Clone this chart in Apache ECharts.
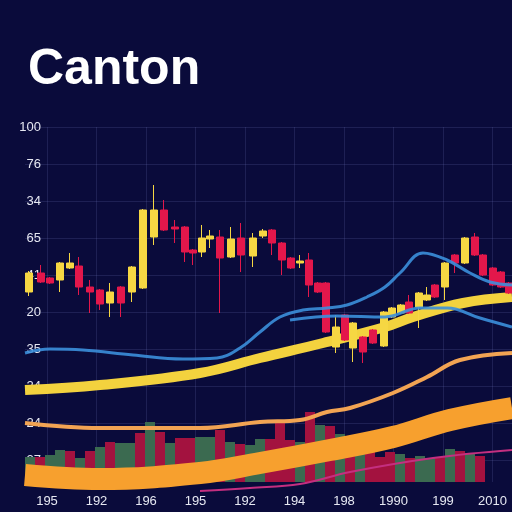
<!DOCTYPE html>
<html>
<head>
<meta charset="utf-8">
<script src="https://cdn.jsdelivr.net/npm/echarts@6/dist/echarts.min.js"></script>
<style>
html,body{margin:0;padding:0;background:#0a0b3b;}
#main{width:512px;height:512px;}
</style>
</head>
<body>
<div id="main"></div>
<script>
// axis labels (bottom -> top for y)
var xLabels = ['195', '192', '196', '195', '192', '194', '198', '1990', '199', '2010'];
var yLabels = ['27', '24', '24', '35', '20', '41', '65', '34', '76', '100'];

// candles: [x, open, close, low, high]
var candles = [
    [0.8, 38, 41.8, 37.2, 42.2], [3.2, 41.8, 40, 39.8, 43.4], [5, 40.8, 39.8, 39.6, 41],
    [7, 40.4, 43.8, 38, 44], [9, 42.8, 43.8, 42.6, 45.8], [10.8, 43.2, 39, 37.4, 45],
    [13, 39, 38, 33.8, 40.4], [15, 38.4, 35.6, 34.4, 38.6], [17, 35.8, 38, 33, 39.8],
    [19.2, 39, 35.8, 33, 39.2], [21.4, 38, 43, 36, 43.2], [23.6, 38.8, 54.4, 38.6, 54.6],
    [25.8, 49, 54.4, 47.4, 59.4], [27.8, 54.4, 50.4, 50.2, 56.4], [30, 51, 50.6, 47.8, 52.4],
    [32, 51, 46, 44, 51.2], [33.6, 46.4, 45.8, 43.4, 46.6], [35.4, 46, 48.8, 45, 51.4],
    [37, 48.6, 49.2, 46.8, 50.4], [39, 49, 44.8, 33.8, 50.4], [41.2, 45, 48.6, 44.8, 51],
    [43.2, 48.8, 45.4, 42, 51.8], [45.6, 45.2, 48.8, 43, 49.8], [47.6, 49.2, 50.2, 48.8, 50.6],
    [49.4, 50.4, 47.8, 45.4, 50.6], [51.4, 47.8, 44.4, 41.4, 48], [53.2, 44.8, 42.8, 42.6, 45],
    [55, 43.8, 44.2, 42.8, 45.4], [56.8, 44.4, 39.4, 37, 45.8], [58.6, 39.8, 38, 37.8, 40],
    [60.2, 39.8, 30, 29.8, 40], [62.2, 27, 31, 25.8, 33.4], [64, 33.4, 28.4, 28.2, 33.6],
    [65.6, 26.8, 31.8, 24, 32], [67.6, 29, 26, 23.8, 29.2], [69.6, 30.4, 27.8, 27.6, 30.6],
    [71.8, 27.2, 34, 27, 34.2], [73.4, 33, 34.8, 32.8, 35], [75.2, 33.8, 35.4, 33.6, 35.6],
    [76.8, 36, 33.8, 33.6, 37.4], [78.8, 35, 37.8, 30.8, 38], [80.4, 36.4, 37.4, 36.2, 39],
    [82, 39.4, 37, 36.8, 39.6], [84, 39, 43.8, 36.4, 44], [86, 45.4, 43.8, 41.8, 45.6],
    [88, 43.8, 48.8, 43.6, 49], [90, 49, 45.4, 45.2, 49.8], [91.6, 45.4, 41.4, 41.2, 45.6],
    [93.6, 42.8, 39.4, 39.2, 43], [95.2, 42, 39, 38.8, 42.2], [96.8, 39.8, 37.8, 37.6, 40]
];

// volume bars: top level, hidden base level, direction (1 up / 0 down)
var volX = [1, 3, 5, 7, 9, 11, 13, 15, 17, 19, 21, 23, 25, 27, 29, 31, 33, 35, 37, 39, 41, 43, 45,
    47, 49, 51, 53, 55, 57, 59, 61, 63, 65, 67, 69, 71, 73, 75, 77, 79, 81, 83, 85, 87, 89, 91];
var volTop = [5, 5, 5.4, 6.4, 6.2, 4.8, 6.2, 7, 8, 7.8, 7.8, 9.8, 12, 10, 7.8, 8.8, 8.8, 9, 9, 10.4,
    9.6, 9.6, 9.8, 11.4, 11.8, 15.6, 12.4, 12.4, 18.8, 16.6, 16.6, 15.4, 14.4, 13, 13, 12.4, 13.8,
    14, 13.8, 14.8, 15, 15.8, 18, 18, 18, 17.8];
var volBase = [0, 0, 0, 0, 0, 0, 0, 0, 0, 0, 0, 0, 0, 0, 0, 0, 0, 0, 0, 0, 1.6, 2, 2.4, 2.8, 3.2,
    3.6, 4, 4.4, 4.8, 5.2, 5.4, 5.8, 6.2, 6.6, 7, 7.4, 7.8, 8.4, 9, 9.6, 10.2, 10.8, 11.4, 11.8,
    12.2, 12.6];
var volDir = [1, 0, 1, 1, 0, 1, 0, 1, 0, 1, 1, 0, 1, 0, 1, 0, 0, 1, 1, 0, 1, 0, 1, 1, 0, 0, 0, 1,
    0, 1, 0, 1, 0, 1, 0, 0, 0, 1, 0, 1, 1, 0, 1, 0, 1, 0];

// curves [x, y]
var blueA = [[0, 25.8], [5, 26.6], [11.6, 26.4], [21.6, 25.4], [31.6, 24.6], [38.4, 24.8],
    [43, 26.8], [47, 30], [51, 33], [55.6, 34.4], [60.4, 34.8], [64.4, 35.4], [68.4, 37],
    [72, 39], [75, 41.8], [79.6, 45.8], [84.4, 44.4], [89, 41.8], [93, 40], [97.4, 39.4]];
var blueB = [[53, 32.4], [62.4, 33.2], [72, 33], [79, 34.8], [84.4, 34.8], [91, 32.8], [97.4, 31]];
var yellowBand = [[0, 18.4], [15, 19.4], [35, 21.8], [47, 24.8], [59.6, 27.8], [72, 31],
    [77.6, 33], [87.6, 35.8], [97.4, 37]];
var orangeLine = [[0, 11.8], [15, 10.8], [35, 10.8], [47, 12], [55, 12.4], [60.4, 14], [65, 14.8],
    [73.6, 17.8], [80.4, 21], [87, 24.4], [97.4, 25.8]];
var orangeBand = [[0, 1.4], [15, 0.6], [35, 1.8], [47, 3.8], [61, 6.4], [73.6, 9], [85, 12.4],
    [97.4, 14.8]];
var pinkLine = [[35, -1.8], [45, -1.2], [55, -0.4], [65, 2], [81.6, 4.8], [97.4, 6.4]];

var xPos = xLabels.map(function (d, i) { return Math.round((4.4 + 9.9 * i) * 10) / 10; });
var yPos = yLabels.map(function (d, i) { return Math.round((4.4 + 7.4 * i) * 10) / 10; });

function nearest(pos, labels, v) {
    var best = 0;
    for (var i = 1; i < pos.length; i++) {
        if (Math.abs(pos[i] - v) < Math.abs(pos[best] - v)) best = i;
    }
    return labels[best];
}

var volBaseData = [], volData = [];
for (var i = 0; i < volX.length; i++) {
    volBaseData.push([volX[i], volBase[i]]);
    volData.push({
        value: [volX[i], +(volTop[i] - volBase[i]).toFixed(2)],
        itemStyle: { color: volDir[i] ? '#3b6a50' : '#a3123f' }
    });
}

function curve(data, color, width, z, opacity) {
    return {
        type: 'line',
        data: data,
        smooth: 0.4,
        symbol: 'none',
        clip: false,
        z: z,
        lineStyle: { color: color, width: width, opacity: opacity || 1, cap: 'butt' }
    };
}

var myChart = echarts.init(document.getElementById('main'));
myChart.setOption({
    backgroundColor: '#0a0b3b',
    animation: false,
    title: {
        text: 'Canton',
        left: 23,
        top: 40,
        textStyle: { color: '#ffffff', fontSize: 50, fontWeight: 'bold', fontFamily: 'Liberation Sans' }
    },
    grid: { left: 25, right: 0, top: 127, bottom: 30 },
    xAxis: {
        type: 'value',
        min: 0,
        max: 97.4,
        axisLine: { show: false },
        axisTick: { show: false, customValues: xPos },
        splitLine: { show: true, lineStyle: { color: 'rgba(120,130,200,0.18)', width: 1 } },
        axisLabel: {
            customValues: xPos,
            margin: 13,
            color: '#e6e8f2',
            fontSize: 13,
            fontFamily: 'Liberation Sans',
            formatter: function (v) { return nearest(xPos, xLabels, v); }
        }
    },
    yAxis: {
        type: 'value',
        min: 0,
        max: 71,
        axisLine: { show: false },
        axisTick: { show: false, customValues: yPos },
        splitLine: { show: true, lineStyle: { color: 'rgba(120,130,200,0.18)', width: 1 } },
        axisLabel: {
            customValues: yPos,
            margin: -16,
            color: '#e6e8f2',
            fontSize: 13,
            fontFamily: 'Liberation Sans',
            formatter: function (v) { return nearest(yPos, yLabels, v); }
        }
    },
    series: [
        {
            type: 'bar', stack: 'vol', barWidth: 10, z: 1,
            itemStyle: { color: 'rgba(0,0,0,0)' },
            data: volBaseData
        },
        {
            type: 'bar', stack: 'vol', barWidth: 10, z: 1,
            data: volData
        },
        curve(orangeLine, '#f2a453', 4, 2),
        curve(orangeBand, '#f7a02e', 22, 3),
        curve(pinkLine, '#c42f80', 2, 2),
        curve(yellowBand, '#f3d23e', 10, 3),
        {
            type: 'candlestick',
            data: candles,
            encode: { x: 0, y: [1, 2, 3, 4] },
            barWidth: 8,
            z: 4,
            itemStyle: {
                color: '#f6d743',
                color0: '#e3174b',
                borderColor: '#f6d743',
                borderColor0: '#e3174b',
                borderWidth: 1
            }
        },
        curve(blueA, '#3b8fdc', 3, 5, 0.9),
        curve(blueB, '#3b8fdc', 3, 5, 0.9)
    ]
});
</script>
</body>
</html>
